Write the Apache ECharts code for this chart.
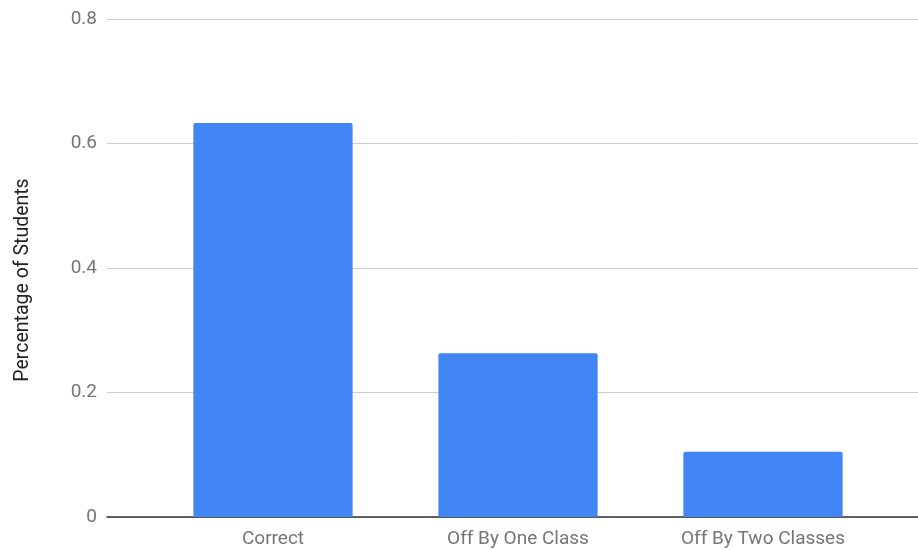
<!DOCTYPE html>
<html>
<head>
	<meta charset="utf-8">
	<title>Percentage of Students</title>
	<style>
		body { margin: 0; background: #fff; }
		#container { width: 918px; height: 550px; }
	</style>
</head>
<body>
<script type="text/javascript" src="https://cdn.jsdelivr.net/npm/echarts@6/dist/echarts.min.js"></script>
<div id="container"></div>
<script type="text/javascript">
	// categories and values
	var categories = ['Correct', 'Off By One Class', 'Off By Two Classes'];
	var values = [0.633, 0.263, 0.105];
	var yTicks = [0, 0.2, 0.4, 0.6, 0.8];

	var textColor = '#757575';
	var font = 'Roboto';

	var myChart = echarts.init(document.getElementById('container'));
	var option = {
		animation: false,
		// grid 0: wide, only gridlines + y labels + baseline
		// grid 1: narrower, holds the bars (Google-style padding)
		grid: [
			{ left: 107, right: 0, top: 19, bottom: 33 },
			{ left: 150.5, right: 32.5, top: 19, bottom: 33 }
		],
		// y axis title, placed by hand a bit below the axis middle
		graphic: [{
			type: 'text', x: 23, y: 280, rotation: Math.PI / 2,
			style: {
				text: 'Percentage of Students', fill: '#222',
				font: '19.5px Roboto', align: 'center', verticalAlign: 'middle'
			}
		}],
		xAxis: [
			{
				gridIndex: 0, type: 'value', min: 0, max: 1,
				axisLine: { show: true, lineStyle: { color: '#333', width: 1.5 } },
				axisTick: { show: false }, axisLabel: { show: false }, splitLine: { show: false }
			},
			{
				gridIndex: 1, type: 'category', data: categories,
				axisLine: { show: false }, axisTick: { show: false },
				axisLabel: { color: textColor, fontSize: 19, fontFamily: font, margin: 13 }
			}
		],
		yAxis: [
			{
				gridIndex: 0, type: 'value', min: 0, max: 0.8, interval: 0.2,
				axisLine: { show: false }, axisTick: { show: false },
				axisLabel: {
					color: textColor, fontSize: 19, fontFamily: font, margin: 10,
					formatter: function (v) { return yTicks.indexOf(+v.toFixed(1)) >= 0 ? String(+v.toFixed(1)) : ''; }
				},
				splitLine: { lineStyle: { color: '#cccccc', width: 1 } }
			},
			{
				gridIndex: 1, type: 'value', min: 0, max: 0.8, interval: 0.2, show: false
			}
		],
		series: [
			{
				type: 'bar', xAxisIndex: 1, yAxisIndex: 1,
				data: values, barWidth: '65%',
				itemStyle: { color: '#4285F4', borderRadius: [2, 2, 0, 0] }
			}
		]
	};
	myChart.setOption(option);
	window.addEventListener('resize', myChart.resize);
</script>
</body>
</html>
